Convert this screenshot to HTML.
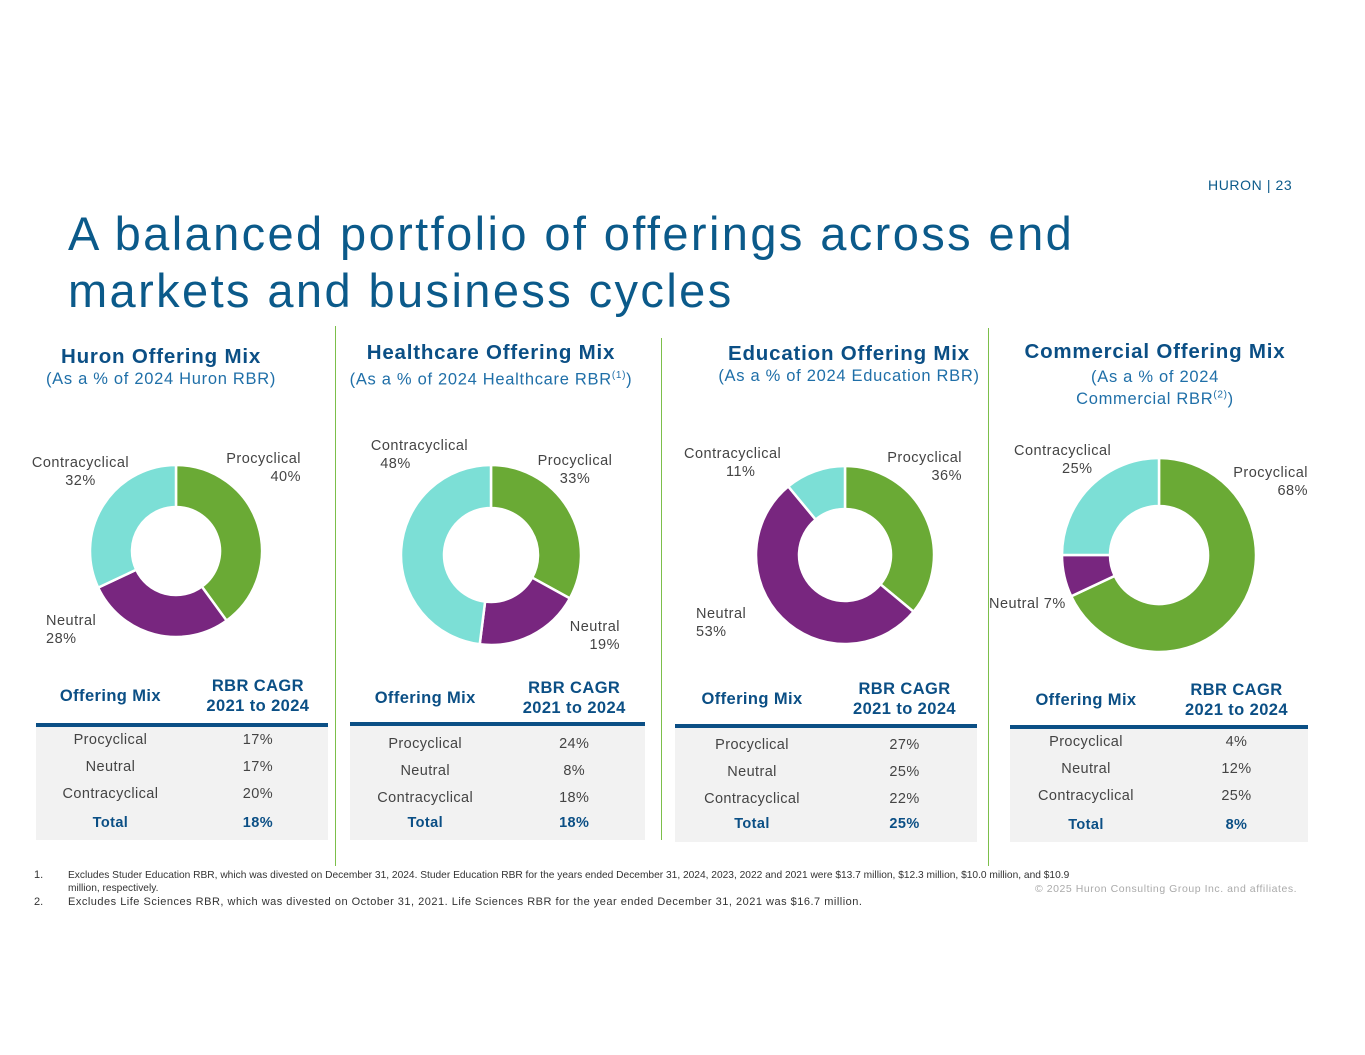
<!DOCTYPE html>
<html><head><meta charset="utf-8">
<style>
body{margin:0;width:1365px;height:1055px;background:#fff;position:relative;overflow:hidden;font-family:"Liberation Sans",sans-serif;}
.a{position:absolute;}
.title{left:68px;top:205px;font-size:47px;letter-spacing:2.4px;line-height:57px;color:#0b5a8a;white-space:nowrap;}
.pg{left:1208px;top:177px;font-size:14px;letter-spacing:0.6px;color:#0b5a8a;}
.ph{color:#0b4f85;font-weight:bold;font-size:20.5px;letter-spacing:0.8px;text-align:center;white-space:nowrap;}
.ps{color:#1f6fa8;font-size:16.5px;letter-spacing:0.7px;text-align:center;line-height:21px;white-space:nowrap;}
.lbl{font-size:14.5px;letter-spacing:0.5px;color:#444;line-height:18px;white-space:nowrap;}
.vl{width:1px;background:#7cbf4a;}
.th{color:#0b4f85;font-weight:bold;font-size:16.5px;letter-spacing:0.4px;text-align:center;line-height:20px;}
.bar{height:4px;background:#0b4f85;}
.box{background:#f2f2f2;}
.cell{position:absolute;text-align:center;font-size:14.5px;letter-spacing:0.4px;color:#444;}
.tot{color:#0b4f85;font-weight:bold;}
.fn{font-size:11px;color:#333;line-height:13px;white-space:nowrap;}
</style></head><body>
<div class="a pg">HURON | 23</div>
<div class="a title">A balanced portfolio of offerings across end<br>markets and business cycles</div>

<div class="a vl" style="left:335px;top:326px;height:540px"></div>
<div class="a vl" style="left:661px;top:338px;height:502px"></div>
<div class="a vl" style="left:988px;top:328px;height:538px"></div>

<svg id="donuts" class="a" style="left:0;top:0" width="1365" height="1055"></svg>
<div id="txt"></div>

<div class="a fn" style="left:34px;top:869px">1.</div>
<div class="a fn" style="left:68px;top:869px;font-size:10.2px;letter-spacing:0">Excludes Studer Education RBR, which was divested on December 31, 2024. Studer Education RBR for the years ended December 31, 2024, 2023, 2022 and 2021 were $13.7 million, $12.3 million, $10.0 million, and $10.9<br>million, respectively.</div>
<div class="a fn" style="left:34px;top:896px">2.</div>
<div class="a fn" style="left:68px;top:896px;letter-spacing:0.5px">Excludes Life Sciences RBR, which was divested on October 31, 2021. Life Sciences RBR for the year ended December 31, 2021 was $16.7 million.</div>
<div class="a" style="left:1035px;top:883px;font-size:10.5px;letter-spacing:0.55px;color:#aaa;white-space:nowrap">© 2025 Huron Consulting Group Inc. and affiliates.</div>

<script>
const panels=["Huron","Healthcare","Education","Commercial"];
const procyclical=[40,33,36,68];
const neutral=[28,19,53,7];
const contracyclical=[32,48,11,25];
const cagrPro=["17%","24%","27%","4%"];
const cagrNeu=["17%","8%","25%","12%"];
const cagrCon=["20%","18%","22%","25%"];
const cagrTot=["18%","18%","25%","8%"];
const colors=["#6aaa35","#78267f","#7cdfd6"];
const geo=[{cx:176,cy:551,r:86,ri:44},{cx:491,cy:555,r:90,ri:47},{cx:845,cy:555,r:89,ri:46},{cx:1159,cy:555,r:97,ri:49}];
const svg=document.getElementById('donuts');
const NS="http://www.w3.org/2000/svg";
function pt(cx,cy,r,a){return [cx+r*Math.sin(a),cy-r*Math.cos(a)];}
panels.forEach((p,i)=>{
  const vals=[procyclical[i],neutral[i],contracyclical[i]];
  const tot=vals.reduce((a,b)=>a+b,0);
  let a0=0;const g=geo[i];
  vals.forEach((v,k)=>{
    const a1=a0+v/tot*2*Math.PI;
    const [x0,y0]=pt(g.cx,g.cy,g.r,a0),[x1,y1]=pt(g.cx,g.cy,g.r,a1);
    const [x2,y2]=pt(g.cx,g.cy,g.ri,a1),[x3,y3]=pt(g.cx,g.cy,g.ri,a0);
    const lg=(a1-a0)>Math.PI?1:0;
    const path=document.createElementNS(NS,'path');
    path.setAttribute('d',`M${x0},${y0}A${g.r},${g.r} 0 ${lg} 1 ${x1},${y1}L${x2},${y2}A${g.ri},${g.ri} 0 ${lg} 0 ${x3},${y3}Z`);
    path.setAttribute('fill',colors[k]);path.setAttribute('stroke','#fff');path.setAttribute('stroke-width','2.5');
    
    
    svg.appendChild(path);
    a0=a1;
  });
});
</script>

<div class="a" style="left:30px;top:345px;width:262px"><div class="ph">Huron Offering Mix</div><div class="ps">(As a % of 2024 Huron RBR)</div></div>
<div class="a" style="left:340px;top:341px;width:302px"><div class="ph">Healthcare Offering Mix</div><div class="ps">(As a % of 2024 Healthcare RBR<sup style="font-size:10px">(1)</sup>)</div></div>
<div class="a" style="left:705px;top:342px;width:288px"><div class="ph">Education Offering Mix</div><div class="ps">(As a % of 2024 Education RBR)</div></div>
<div class="a" style="left:1005px;top:340px;width:300px"><div class="ph">Commercial Offering Mix</div><div class="ps" style="line-height:22px;margin-top:2px">(As a % of 2024<br>Commercial RBR<sup style="font-size:10px;line-height:0">(2)</sup>)</div></div>

<div class="a lbl" style="left:201px;top:450px;text-align:right;width:100px">Procyclical<br>40%</div>
<div class="a lbl" style="left:27px;top:454px;text-align:center;width:107px">Contracyclical<br>32%</div>
<div class="a lbl" style="left:46px;top:612px">Neutral<br>28%</div>
<div class="a lbl" style="left:534px;top:452px;text-align:center;width:82px">Procyclical<br>33%</div>
<div class="a lbl" style="left:366px;top:437px;text-align:center;width:107px">Contracyclical<br><span style="margin-right:48px">48%</span></div>
<div class="a lbl" style="left:545px;top:618px;text-align:right;width:75px">Neutral<br>19%</div>
<div class="a lbl" style="left:860px;top:449px;text-align:right;width:102px">Procyclical<br>36%</div>
<div class="a lbl" style="left:684px;top:445px">Contracyclical<br><span style="margin-left:42px">11%</span></div>
<div class="a lbl" style="left:696px;top:605px">Neutral<br>53%</div>
<div class="a lbl" style="left:1208px;top:464px;text-align:right;width:100px">Procyclical<br>68%</div>
<div class="a lbl" style="left:1014px;top:442px">Contracyclical<br><span style="margin-left:48px">25%</span></div>
<div class="a lbl" style="left:989px;top:595px">Neutral 7%</div>

<script>
const tabs=[{x:36,w:292,hy:676,line:723,rows:[740,767,794,823],bot:840},{x:350,w:295,hy:678,line:722,rows:[744,771,798,823],bot:840},{x:675,w:302,hy:679,line:724,rows:[745,772,799,824],bot:842},{x:1010,w:298,hy:680,line:725,rows:[742,769,796,825],bot:842}];
const names=["Procyclical","Neutral","Contracyclical","Total"];
const T=document.getElementById('txt');
tabs.forEach((t,i)=>{
  const d=document.createElement('div');d.className='a';d.style.cssText=`left:${t.x}px;top:${t.hy}px;width:${t.w}px;height:${t.bot-t.hy}px`;
  
  
  const cols=[cagrPro[i],cagrNeu[i],cagrCon[i],cagrTot[i]];
  let h=`<div class="th" style="position:absolute;left:0;width:${t.w*0.51}px;top:10px">Offering Mix</div>
  <div class="th" style="position:absolute;left:${t.w*0.54}px;width:${t.w*0.44}px;top:0">RBR CAGR<br>2021 to 2024</div>
  <div class="bar" style="position:absolute;left:0;width:${t.w}px;top:${t.line-t.hy}px"></div>
  <div class="box" style="position:absolute;left:0;width:${t.w}px;top:${t.line-t.hy+4}px;height:${t.bot-t.line-4}px"></div>`;
  names.forEach((n,k)=>{
    const y=t.rows[k]-t.hy-8;const c=k==3?' tot':'';
    h+=`<div class="cell${c}" style="left:0;width:${t.w*0.51}px;top:${y}px">${n}</div><div class="cell${c}" style="left:${t.w*0.54}px;width:${t.w*0.44}px;top:${y}px">${cols[k]}</div>`;
  });
  d.innerHTML=h;T.appendChild(d);
});
</script>
</body></html>
